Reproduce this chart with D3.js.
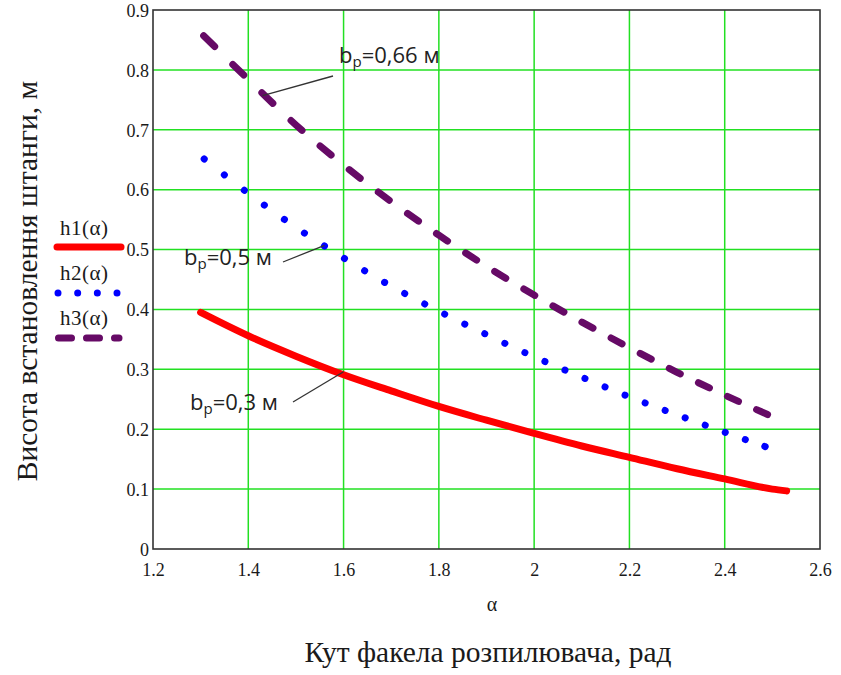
<!DOCTYPE html>
<html>
<head>
<meta charset="utf-8">
<script src="https://cdn.jsdelivr.net/npm/d3@7"></script>
<style>
  html, body { margin: 0; padding: 0; background: #fff; }
  svg { display: block; }
</style>
</head>
<body>
<div id="chart"></div>
<script>
// values
const alpha1 = [1.30, 1.40, 1.50, 1.60, 1.70, 1.80, 1.90, 2.00, 2.10, 2.20, 2.30, 2.40, 2.50, 2.53];
const h1 = [0.395, 0.356, 0.322, 0.291, 0.264, 0.238, 0.215, 0.193, 0.172, 0.153, 0.134, 0.117, 0.100, 0.097];
const alpha2 = [1.30, 1.40, 1.50, 1.60, 1.70, 1.80, 1.90, 2.00, 2.10, 2.20, 2.30, 2.40, 2.485];
const h2 = [0.656, 0.594, 0.537, 0.486, 0.439, 0.397, 0.358, 0.321, 0.287, 0.254, 0.224, 0.195, 0.171];
const alpha3 = [1.30, 1.40, 1.50, 1.60, 1.70, 1.80, 1.90, 2.00, 2.10, 2.20, 2.30, 2.40, 2.50];
const h3 = [0.862, 0.784, 0.708, 0.641, 0.580, 0.524, 0.472, 0.424, 0.379, 0.336, 0.295, 0.257, 0.221];

const xTicks = [1.2, 1.4, 1.6, 1.8, 2, 2.2, 2.4, 2.6];
const yTicks = [0, 0.1, 0.2, 0.3, 0.4, 0.5, 0.6, 0.7, 0.8, 0.9];
const legendNames = ['h1(α)', 'h2(α)', 'h3(α)'];
const notes = [
  {b: '0,66', at: [1.43, 0.757]},
  {b: '0,5', at: [1.56, 0.507]},
  {b: '0,3', at: [1.6, 0.296]}
];

const W = 841, H = 675;
const pLeft = 153, pRight = 820, pTop = 10, pBottom = 549;
const SERIF = '"Liberation Serif", "Times New Roman", serif';
const SANS = '"Open Sans", "Liberation Sans", sans-serif';

const x = d3.scaleLinear().domain([1.2, 2.6]).range([pLeft, pRight]);
const y = d3.scaleLinear().domain([0, 0.9]).range([pBottom, pTop]);

const svg = d3.select('#chart').append('svg')
  .attr('width', W)
  .attr('height', H);

// grid
svg.append('g')
  .attr('stroke', '#22e022')
  .attr('stroke-width', 1.5)
  .selectAll('line')
  .data(xTicks.slice(1, -1))
  .join('line')
  .attr('x1', d => x(d)).attr('x2', d => x(d))
  .attr('y1', pTop).attr('y2', pBottom);

svg.append('g')
  .attr('stroke', '#22e022')
  .attr('stroke-width', 1.5)
  .selectAll('line')
  .data(yTicks.slice(1, -1))
  .join('line')
  .attr('y1', d => y(d)).attr('y2', d => y(d))
  .attr('x1', pLeft).attr('x2', pRight);

// axes (labels only, Mathcad style)
const xAxis = svg.append('g')
  .attr('transform', `translate(0,${pBottom})`)
  .call(d3.axisBottom(x).tickValues(xTicks).tickSize(0).tickPadding(0).tickFormat(d3.format('')))
  .attr('font-family', SERIF)
  .attr('font-size', 18);
xAxis.select('.domain').remove();
xAxis.selectAll('text')
  .attr('fill', '#1a1a1a')
  .attr('dy', null)
  .attr('y', 27);

const yAxis = svg.append('g')
  .attr('transform', `translate(${pLeft},0)`)
  .call(d3.axisLeft(y).tickValues(yTicks).tickSize(0).tickPadding(4).tickFormat(d3.format('')))
  .attr('font-family', SERIF)
  .attr('font-size', 18);
yAxis.select('.domain').remove();
yAxis.selectAll('text')
  .attr('fill', '#1a1a1a')
  .attr('dy', '0.35em');

svg.append('rect')
  .attr('x', pLeft).attr('y', pTop)
  .attr('width', pRight - pLeft).attr('height', pBottom - pTop)
  .attr('fill', 'none')
  .attr('stroke', '#333')
  .attr('stroke-width', 1.6);

// curves
const line = d3.line()
  .x(d => x(d[0]))
  .y(d => y(d[1]))
  .curve(d3.curveMonotoneX);

// dash pattern laid out along x (Mathcad spaces dots/dashes by sample, i.e. evenly in x)
function xDash(path, offset, period, dashX) {
  const node = path.node();
  const total = node.getTotalLength();
  const lenAt = xv => {
    let lo = 0, hi = total;
    for (let i = 0; i < 30; i++) {
      const mid = (lo + hi) / 2;
      if (node.getPointAtLength(mid).x < xv) lo = mid; else hi = mid;
    }
    return lo;
  };
  const x0 = node.getPointAtLength(0).x;
  const xEnd = node.getPointAtLength(total).x;
  const arr = [];
  let first = null, prev = 0;
  for (let xs = x0 + offset; xs <= xEnd + 1.5; xs += period) {
    const a = Math.min(lenAt(xs), total - 0.5);
    const b = Math.max(lenAt(Math.min(xs + dashX, xEnd)), a + 0.05);
    if (first === null) first = a;
    else arr.push(a - prev);
    arr.push(b - a);
    prev = b;
  }
  arr.push(total * 2);
  path.attr('stroke-dasharray', arr.map(v => v.toFixed(2)).join(' '))
    .attr('stroke-dashoffset', -first);
}

const plot = svg.append('g').attr('fill', 'none').attr('stroke-linecap', 'round');

plot.append('path')
  .attr('d', line(d3.zip(alpha1, h1)))
  .attr('stroke', '#ff0000')
  .attr('stroke-width', 7)
  .attr('stroke-linejoin', 'round');

const p2 = plot.append('path')
  .attr('d', line(d3.zip(alpha2, h2)))
  .attr('stroke', '#0000ff')
  .attr('stroke-width', 7);
xDash(p2, 3.5, 20.04, 0);

const p3 = plot.append('path')
  .attr('d', line(d3.zip(alpha3, h3)))
  .attr('stroke', '#660a66')
  .attr('stroke-width', 7);
xDash(p3, 3, 29.1, 11);

// legend
const lg = svg.append('g');
lg.selectAll('text')
  .data(legendNames)
  .join('text')
  .attr('font-family', SERIF)
  .attr('fill', '#1a1a1a')
  .attr('font-size', 21)
  .attr('letter-spacing', 0.5)
  .attr('x', 60)
  .attr('y', (d, i) => 235 + i * 45)
  .text(d => d);

lg.append('line')
  .attr('x1', 57).attr('x2', 121).attr('y1', 247).attr('y2', 247)
  .attr('stroke', '#ff0000').attr('stroke-width', 7).attr('stroke-linecap', 'round');
lg.append('line')
  .attr('x1', 58).attr('x2', 118).attr('y1', 293).attr('y2', 293)
  .attr('stroke', '#0000ff').attr('stroke-width', 7).attr('stroke-linecap', 'round')
  .attr('stroke-dasharray', '0 19.67');
lg.append('line')
  .attr('x1', 58.5).attr('x2', 119).attr('y1', 338).attr('y2', 338)
  .attr('stroke', '#660a66').attr('stroke-width', 7).attr('stroke-linecap', 'round')
  .attr('stroke-dasharray', '13 15');

// annotations
const notePos = [
  {tx: 339, ty: 63, lx: 333, ly: 76},
  {tx: 184, ty: 265, lx: 283, ly: 262},
  {tx: 190, ty: 410, lx: 293, ly: 402}
];
const ann = svg.append('g');
notes.forEach((n, i) => {
  const p = notePos[i];
  ann.append('line')
    .attr('x1', p.lx).attr('y1', p.ly)
    .attr('x2', x(n.at[0])).attr('y2', y(n.at[1]))
    .attr('stroke', '#333').attr('stroke-width', 1.3);
  const t = ann.append('text')
    .attr('font-family', SANS)
    .attr('fill', '#222')
    .attr('font-size', 22)
    .attr('x', p.tx).attr('y', p.ty);
  t.append('tspan').text('b');
  t.append('tspan').attr('font-size', 15).attr('dy', 4).text('р');
  t.append('tspan').attr('dy', -4).text('=' + n.b + ' м');
});

// axis titles
svg.append('text')
  .attr('font-family', SERIF)
  .attr('fill', '#1a1a1a')
  .attr('font-size', 20)
  .attr('text-anchor', 'middle')
  .attr('x', 492).attr('y', 611)
  .text('α');

svg.append('text')
  .attr('font-family', SERIF)
  .attr('fill', '#1a1a1a')
  .attr('font-size', 29.5)
  .attr('text-anchor', 'middle')
  .attr('x', 488).attr('y', 662)
  .text('Кут факела розпилювача, рад');

svg.append('text')
  .attr('font-family', SERIF)
  .attr('fill', '#1a1a1a')
  .attr('font-size', 29.5)
  .attr('text-anchor', 'middle')
  .attr('transform', 'translate(37,281) rotate(-90)')
  .text('Висота встановлення штанги, м');
</script>
</body>
</html>
